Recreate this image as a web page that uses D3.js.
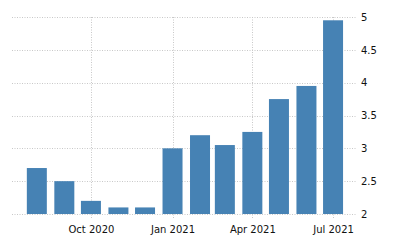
<!DOCTYPE html>
<html>
<head>
<meta charset="utf-8">
<script src="https://cdn.jsdelivr.net/npm/d3@7"></script>
<style>
  html, body { margin: 0; padding: 0; background: #fff; }
  svg { display: block; }
  text { font-family: "DejaVu Sans", sans-serif; font-size: 10px; fill: #111; }
</style>
</head>
<body>
<svg id="chart" width="400" height="250"></svg>
<script>
const months = ["2020-08-01","2020-09-01","2020-10-01","2020-11-01","2020-12-01","2021-01-01",
                "2021-02-01","2021-03-01","2021-04-01","2021-05-01","2021-06-01","2021-07-01"];
const values = [2.7, 2.5, 2.2, 2.1, 2.1, 3.0, 3.2, 3.05, 3.25, 3.75, 3.95, 4.95];
const xTickDates = ["2020-10-01","2021-01-01","2021-04-01","2021-07-01"];
const xTickLabels = ["Oct 2020","Jan 2021","Apr 2021","Jul 2021"];
const yTicks = [2, 2.5, 3, 3.5, 4, 4.5, 5];
const yTickLabels = ["2","2.5","3","3.5","4","4.5","5"];

const parse = d3.timeParse("%Y-%m-%d");
const dates = months.map(parse);
const svg = d3.select("#chart");

const mLeft = 12, mRight = 357, mTop = 17, mBottom = 214;
const x = d3.scaleTime()
  .domain([parse("2020-07-04"), parse("2021-07-28")])
  .range([mLeft, mRight]);
const y = d3.scaleLinear().domain([2, 5]).range([mBottom, mTop]);

const grid = svg.append("g").attr("stroke", "#c8c8c8").attr("stroke-dasharray", "1,1.5").attr("stroke-width", 1);
yTicks.forEach(t => {
  grid.append("line")
    .attr("x1", mLeft).attr("x2", mRight)
    .attr("y1", Math.round(y(t)) + 0.5).attr("y2", Math.round(y(t)) + 0.5);
});
xTickDates.map(parse).forEach(d => {
  grid.append("line")
    .attr("x1", Math.round(x(d)) + 0.5).attr("x2", Math.round(x(d)) + 0.5)
    .attr("y1", mTop).attr("y2", mBottom + 4);
});

const barW = 20;
svg.append("g").selectAll("rect").data(values).join("rect")
  .attr("x", (d, i) => x(dates[i]) - barW / 2)
  .attr("width", barW)
  .attr("y", d => y(d))
  .attr("height", d => y(2) - y(d))
  .attr("fill", "#4682b4");

const xAxis = d3.axisBottom(x)
  .tickValues(xTickDates.map(parse))
  .tickFormat((d, i) => xTickLabels[i])
  .tickSize(0).tickPadding(12);
const gx = svg.append("g").attr("transform", `translate(0,${mBottom})`).call(xAxis);
gx.select(".domain").remove();
gx.selectAll("text").style("font-family", "DejaVu Sans").style("font-size", "10px").attr("fill", "#111");

const yAxis = d3.axisRight(y)
  .tickValues(yTicks)
  .tickFormat((d, i) => yTickLabels[i])
  .tickSize(0).tickPadding(4);
const gy = svg.append("g").attr("transform", `translate(${mRight},0)`).call(yAxis);
gy.select(".domain").remove();
gy.selectAll("text").style("font-family", "DejaVu Sans").style("font-size", "10px").attr("fill", "#111");
</script>
</body>
</html>
